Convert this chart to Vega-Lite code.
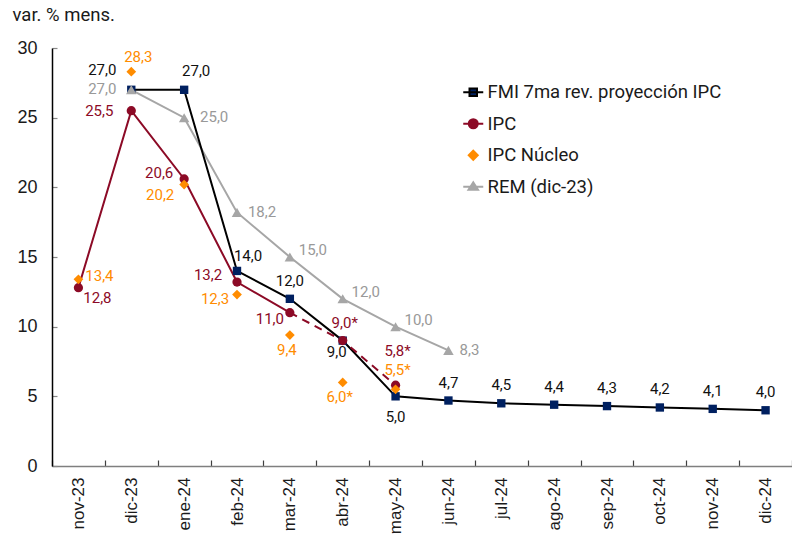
{
  "$schema": "https://vega.github.io/schema/vega-lite/v6.json",
  "width": 740,
  "height": 418,
  "autosize": {"type": "none"},
  "padding": {"left": 52, "top": 48, "right": 0, "bottom": 72},
  "background": "white",
  "config": {"view": {"stroke": null}, "font": "Roboto", "text": {"font": "Roboto", "fontSize": 15}},
  "data": {"values": [
    {"serie": "FMI 7ma rev. proyección IPC", "mes": "dic-23", "valor": 27.0, "est": false},
    {"serie": "FMI 7ma rev. proyección IPC", "mes": "ene-24", "valor": 27.0, "est": false},
    {"serie": "FMI 7ma rev. proyección IPC", "mes": "feb-24", "valor": 14.0, "est": false},
    {"serie": "FMI 7ma rev. proyección IPC", "mes": "mar-24", "valor": 12.0, "est": false},
    {"serie": "FMI 7ma rev. proyección IPC", "mes": "abr-24", "valor": 9.0, "est": false},
    {"serie": "FMI 7ma rev. proyección IPC", "mes": "may-24", "valor": 5.0, "est": false},
    {"serie": "FMI 7ma rev. proyección IPC", "mes": "jun-24", "valor": 4.7, "est": false},
    {"serie": "FMI 7ma rev. proyección IPC", "mes": "jul-24", "valor": 4.5, "est": false},
    {"serie": "FMI 7ma rev. proyección IPC", "mes": "ago-24", "valor": 4.4, "est": false},
    {"serie": "FMI 7ma rev. proyección IPC", "mes": "sep-24", "valor": 4.3, "est": false},
    {"serie": "FMI 7ma rev. proyección IPC", "mes": "oct-24", "valor": 4.2, "est": false},
    {"serie": "FMI 7ma rev. proyección IPC", "mes": "nov-24", "valor": 4.1, "est": false},
    {"serie": "FMI 7ma rev. proyección IPC", "mes": "dic-24", "valor": 4.0, "est": false},
    {"serie": "IPC", "mes": "nov-23", "valor": 12.8, "est": false},
    {"serie": "IPC", "mes": "dic-23", "valor": 25.5, "est": false},
    {"serie": "IPC", "mes": "ene-24", "valor": 20.6, "est": false},
    {"serie": "IPC", "mes": "feb-24", "valor": 13.2, "est": false},
    {"serie": "IPC", "mes": "mar-24", "valor": 11.0, "est": false},
    {"serie": "IPC", "mes": "abr-24", "valor": 9.0, "est": true},
    {"serie": "IPC", "mes": "may-24", "valor": 5.8, "est": true},
    {"serie": "IPC Núcleo", "mes": "nov-23", "valor": 13.4, "est": false},
    {"serie": "IPC Núcleo", "mes": "dic-23", "valor": 28.3, "est": false},
    {"serie": "IPC Núcleo", "mes": "ene-24", "valor": 20.2, "est": false},
    {"serie": "IPC Núcleo", "mes": "feb-24", "valor": 12.3, "est": false},
    {"serie": "IPC Núcleo", "mes": "mar-24", "valor": 9.4, "est": false},
    {"serie": "IPC Núcleo", "mes": "abr-24", "valor": 6.0, "est": true},
    {"serie": "IPC Núcleo", "mes": "may-24", "valor": 5.5, "est": true},
    {"serie": "REM (dic-23)", "mes": "dic-23", "valor": 27.0, "est": false},
    {"serie": "REM (dic-23)", "mes": "ene-24", "valor": 25.0, "est": false},
    {"serie": "REM (dic-23)", "mes": "feb-24", "valor": 18.2, "est": false},
    {"serie": "REM (dic-23)", "mes": "mar-24", "valor": 15.0, "est": false},
    {"serie": "REM (dic-23)", "mes": "abr-24", "valor": 12.0, "est": false},
    {"serie": "REM (dic-23)", "mes": "may-24", "valor": 10.0, "est": false},
    {"serie": "REM (dic-23)", "mes": "jun-24", "valor": 8.3, "est": false}
  ]},
  "transform": [
    {"calculate": "replace(format(datum.valor, '.1f'), '.', ',') + (datum.est ? '*' : '')", "as": "lbl"}
  ],
  "encoding": {
    "x": {
      "field": "mes", "type": "ordinal",
      "sort": ["nov-23", "dic-23", "ene-24", "feb-24", "mar-24", "abr-24", "may-24", "jun-24", "jul-24", "ago-24", "sep-24", "oct-24", "nov-24", "dic-24"],
      "scale": {"type": "band", "paddingInner": 0, "paddingOuter": 0},
      "axis": {"title": null, "labelAngle": -90, "labelFont": "Liberation Sans", "labelFontSize": 17, "labelColor": "#1a1a1a", "labelPadding": 17, "tickBand": "extent", "ticks": true, "tickSize": -6, "tickWidth": 1.2, "tickColor": "#404040", "domainColor": "#7f7f7f", "domainWidth": 1.5, "grid": false}
    },
    "y": {
      "field": "valor", "type": "quantitative",
      "scale": {"domain": [0, 30], "nice": false},
      "axis": {"values": [0, 5, 10, 15, 20, 25, 30], "labelFont": "Liberation Sans", "labelFontSize": 18, "labelColor": "#1a1a1a", "ticks": true, "tickSize": -5, "tickWidth": 1.2, "tickColor": "#888888", "domainColor": "#000000", "domainWidth": 1.5, "labelPadding": 20, "grid": false,
        "title": "var. % mens.", "titleAngle": 0, "titleX": -40, "titleY": -28, "titleAlign": "left", "titleBaseline": "alphabetic", "titleFont": "Roboto", "titleFontSize": 18.5, "titleFontWeight": "normal", "titleColor": "#1a1a1a"}
    }
  },
  "layer": [
    {"transform": [{"filter": "datum.serie === 'REM (dic-23)'"}], "mark": {"type": "line", "color": "#A6A6A6", "strokeWidth": 2}, "encoding": {"order": {"value": null}}},
    {"transform": [{"filter": "datum.serie === 'FMI 7ma rev. proyección IPC'"}], "mark": {"type": "line", "color": "#000000", "strokeWidth": 2}, "encoding": {"order": {"value": null}}},
    {"transform": [{"filter": "datum.serie === 'IPC' && indexof(['nov-23','dic-23','ene-24','feb-24','mar-24'], datum.mes) >= 0"}], "mark": {"type": "line", "color": "#8C0A26", "strokeWidth": 2}, "encoding": {"order": {"value": null}}},
    {"transform": [{"filter": "datum.serie === 'IPC' && indexof(['mar-24','abr-24','may-24'], datum.mes) >= 0"}], "mark": {"type": "line", "color": "#8C0A26", "strokeWidth": 2, "strokeDash": [8, 6]}, "encoding": {"order": {"value": null}}},
    {"transform": [{"filter": "datum.serie === 'FMI 7ma rev. proyección IPC'"}], "mark": {"type": "point", "shape": "square", "filled": true, "opacity": 1, "color": "#002060", "size": 70}, "encoding": {}},
    {"transform": [{"filter": "datum.serie === 'IPC'"}], "mark": {"type": "point", "shape": "circle", "filled": true, "opacity": 1, "color": "#8C0A26", "size": 85}, "encoding": {}},
    {"transform": [{"filter": "datum.serie === 'IPC Núcleo'"}], "mark": {"type": "point", "shape": "diamond", "filled": true, "opacity": 1, "color": "#FF8C00", "size": 95}, "encoding": {}},
    {"transform": [{"filter": "datum.serie === 'REM (dic-23)'"}], "mark": {"type": "point", "shape": "triangle-up", "filled": true, "opacity": 1, "color": "#A6A6A6", "size": 110}, "encoding": {}},
    {
      "mark": {"type": "point", "filled": true, "opacity": 0, "strokeWidth": 2},
      "encoding": {
        "fill": {"field": "serie", "type": "nominal",
          "scale": {"domain": ["FMI 7ma rev. proyección IPC", "IPC", "IPC Núcleo", "REM (dic-23)"], "range": ["#002060", "#8C0A26", "#FF8C00", "#A6A6A6"]},
          "legend": {"orient": "none", "legendX": 412, "legendY": 35, "title": null, "padding": 0, "labelFont": "Roboto", "labelFontSize": 18.5, "labelColor": "#1a1a1a", "labelLimit": 0, "symbolSize": 100, "symbolOpacity": 1, "symbolStrokeWidth": 2, "labelOffset": 5, "rowPadding": 12.5}},
        "stroke": {"field": "serie", "type": "nominal",
          "scale": {"domain": ["FMI 7ma rev. proyección IPC", "IPC", "IPC Núcleo", "REM (dic-23)"], "range": ["#000000", "#8C0A26", "#FF8C00", "#A6A6A6"]},
          "legend": {"orient": "none", "legendX": 412, "legendY": 35, "title": null, "padding": 0, "labelFont": "Roboto", "labelFontSize": 18.5, "labelColor": "#1a1a1a", "labelLimit": 0, "symbolSize": 100, "symbolOpacity": 1, "symbolStrokeWidth": 2, "labelOffset": 5, "rowPadding": 12.5}},
        "shape": {"field": "serie", "type": "nominal",
          "scale": {"domain": ["FMI 7ma rev. proyección IPC", "IPC", "IPC Núcleo", "REM (dic-23)"], "range": ["M-2,0H2M-0.75,-0.75H0.75V0.75H-0.75Z", "M-2,0H2M-0.9,0A0.9,0.9 0 1,0 0.9,0A0.9,0.9 0 1,0 -0.9,0Z", "M0,-0.9L0.9,0L0,0.9L-0.9,0Z", "M-2,0H2M-0.95,0.6L0,-0.9L0.95,0.6Z"]},
          "legend": {"orient": "none", "legendX": 412, "legendY": 35, "title": null, "padding": 0, "labelFont": "Roboto", "labelFontSize": 18.5, "labelColor": "#1a1a1a", "labelLimit": 0, "symbolSize": 100, "symbolOpacity": 1, "symbolStrokeWidth": 2, "labelOffset": 5, "rowPadding": 12.5}}
      }
    },
    {"transform": [{"filter": "datum.serie === 'FMI 7ma rev. proyección IPC' && datum.mes === 'dic-23'"}], "mark": {"type": "text", "color": "#111111", "dx": -29, "dy": -20}, "encoding": {"text": {"field": "lbl"}}},
    {"transform": [{"filter": "datum.serie === 'FMI 7ma rev. proyección IPC' && datum.mes === 'ene-24'"}], "mark": {"type": "text", "color": "#111111", "dx": 12, "dy": -19}, "encoding": {"text": {"field": "lbl"}}},
    {"transform": [{"filter": "datum.serie === 'FMI 7ma rev. proyección IPC' && datum.mes === 'feb-24'"}], "mark": {"type": "text", "color": "#111111", "dx": 11, "dy": -15}, "encoding": {"text": {"field": "lbl"}}},
    {"transform": [{"filter": "datum.serie === 'FMI 7ma rev. proyección IPC' && indexof(['mar-24','jun-24','jul-24','ago-24','sep-24','oct-24','nov-24','dic-24'], datum.mes) >= 0"}], "mark": {"type": "text", "color": "#111111", "dx": 0, "dy": -18}, "encoding": {"text": {"field": "lbl"}}},
    {"transform": [{"filter": "datum.serie === 'FMI 7ma rev. proyección IPC' && datum.mes === 'abr-24'"}], "mark": {"type": "text", "color": "#111111", "dx": -6, "dy": 11}, "encoding": {"text": {"field": "lbl"}}},
    {"transform": [{"filter": "datum.serie === 'FMI 7ma rev. proyección IPC' && datum.mes === 'may-24'"}], "mark": {"type": "text", "color": "#111111", "dx": 0, "dy": 21}, "encoding": {"text": {"field": "lbl"}}},
    {"transform": [{"filter": "datum.serie === 'IPC' && datum.mes === 'nov-23'"}], "mark": {"type": "text", "color": "#8C0A26", "dx": 19, "dy": 10}, "encoding": {"text": {"field": "lbl"}}},
    {"transform": [{"filter": "datum.serie === 'IPC' && datum.mes === 'dic-23'"}], "mark": {"type": "text", "color": "#8C0A26", "dx": -32, "dy": 0}, "encoding": {"text": {"field": "lbl"}}},
    {"transform": [{"filter": "datum.serie === 'IPC' && datum.mes === 'ene-24'"}], "mark": {"type": "text", "color": "#8C0A26", "dx": -25, "dy": -6}, "encoding": {"text": {"field": "lbl"}}},
    {"transform": [{"filter": "datum.serie === 'IPC' && datum.mes === 'feb-24'"}], "mark": {"type": "text", "color": "#8C0A26", "dx": -29, "dy": -7}, "encoding": {"text": {"field": "lbl"}}},
    {"transform": [{"filter": "datum.serie === 'IPC' && datum.mes === 'mar-24'"}], "mark": {"type": "text", "color": "#8C0A26", "dx": -20, "dy": 6}, "encoding": {"text": {"field": "lbl"}}},
    {"transform": [{"filter": "datum.serie === 'IPC' && datum.mes === 'abr-24'"}], "mark": {"type": "text", "color": "#8C0A26", "dx": 2, "dy": -18}, "encoding": {"text": {"field": "lbl"}}},
    {"transform": [{"filter": "datum.serie === 'IPC' && datum.mes === 'may-24'"}], "mark": {"type": "text", "color": "#8C0A26", "dx": 2, "dy": -34}, "encoding": {"text": {"field": "lbl"}}},
    {"transform": [{"filter": "datum.serie === 'IPC Núcleo' && datum.mes === 'nov-23'"}], "mark": {"type": "text", "color": "#FF8C00", "dx": 21, "dy": -3}, "encoding": {"text": {"field": "lbl"}}},
    {"transform": [{"filter": "datum.serie === 'IPC Núcleo' && datum.mes === 'dic-23'"}], "mark": {"type": "text", "color": "#FF8C00", "dx": 7, "dy": -15}, "encoding": {"text": {"field": "lbl"}}},
    {"transform": [{"filter": "datum.serie === 'IPC Núcleo' && datum.mes === 'ene-24'"}], "mark": {"type": "text", "color": "#FF8C00", "dx": -24, "dy": 10}, "encoding": {"text": {"field": "lbl"}}},
    {"transform": [{"filter": "datum.serie === 'IPC Núcleo' && datum.mes === 'feb-24'"}], "mark": {"type": "text", "color": "#FF8C00", "dx": -22, "dy": 4}, "encoding": {"text": {"field": "lbl"}}},
    {"transform": [{"filter": "datum.serie === 'IPC Núcleo' && indexof(['mar-24','abr-24'], datum.mes) >= 0"}], "mark": {"type": "text", "color": "#FF8C00", "dx": -3, "dy": 15}, "encoding": {"text": {"field": "lbl"}}},
    {"transform": [{"filter": "datum.serie === 'IPC Núcleo' && datum.mes === 'may-24'"}], "mark": {"type": "text", "color": "#FF8C00", "dx": 2, "dy": -19}, "encoding": {"text": {"field": "lbl"}}},
    {"transform": [{"filter": "datum.serie === 'REM (dic-23)' && datum.mes === 'dic-23'"}], "mark": {"type": "text", "color": "#999999", "dx": -29, "dy": -1}, "encoding": {"text": {"field": "lbl"}}},
    {"transform": [{"filter": "datum.serie === 'REM (dic-23)' && datum.mes === 'ene-24'"}], "mark": {"type": "text", "color": "#999999", "dx": 30, "dy": -1}, "encoding": {"text": {"field": "lbl"}}},
    {"transform": [{"filter": "datum.serie === 'REM (dic-23)' && datum.mes === 'feb-24'"}], "mark": {"type": "text", "color": "#999999", "dx": 25, "dy": 0}, "encoding": {"text": {"field": "lbl"}}},
    {"transform": [{"filter": "datum.serie === 'REM (dic-23)' && indexof(['mar-24','abr-24','may-24'], datum.mes) >= 0"}], "mark": {"type": "text", "color": "#999999", "dx": 23, "dy": -7}, "encoding": {"text": {"field": "lbl"}}},
    {"transform": [{"filter": "datum.serie === 'REM (dic-23)' && datum.mes === 'jun-24'"}], "mark": {"type": "text", "color": "#999999", "dx": 21, "dy": 0}, "encoding": {"text": {"field": "lbl"}}}
  ]
}
